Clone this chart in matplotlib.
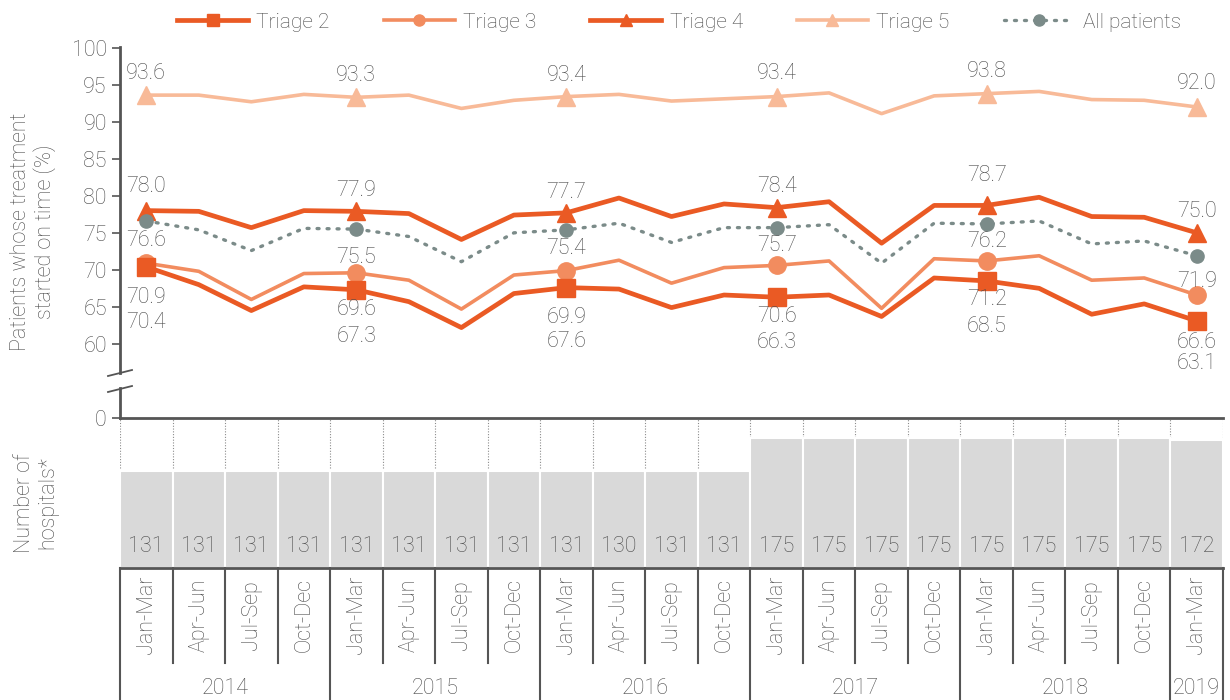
import matplotlib
matplotlib.use("Agg")
import matplotlib.pyplot as plt
from matplotlib.lines import Line2D
import matplotlib.transforms as mtransforms

plt.rcParams["font.family"] = ["Roboto", "DejaVu Sans"]
plt.rcParams["font.weight"] = "light"

quarters = ["Jan-Mar", "Apr-Jun", "Jul-Sep", "Oct-Dec"] * 5 + ["Jan-Mar"]
years = ["2014", "2015", "2016", "2017", "2018", "2019"]
year_centers = [1.5, 5.5, 9.5, 13.5, 17.5, 20]
year_bounds = [-0.5, 3.5, 7.5, 11.5, 15.5, 19.5, 20.5]

triage2 = [70.4, 68.0, 64.5, 67.7, 67.3, 65.7, 62.2, 66.8, 67.6, 67.4, 64.9,
           66.6, 66.3, 66.6, 63.7, 68.9, 68.5, 67.5, 64.0, 65.4, 63.1]
triage3 = [70.9, 69.8, 66.0, 69.5, 69.6, 68.6, 64.7, 69.3, 69.9, 71.3, 68.2,
           70.3, 70.6, 71.2, 64.8, 71.5, 71.2, 71.9, 68.6, 68.9, 66.6]
triage4 = [78.0, 77.9, 75.7, 78.0, 77.9, 77.6, 74.1, 77.4, 77.7, 79.7, 77.2,
           78.9, 78.4, 79.2, 73.6, 78.7, 78.7, 79.8, 77.2, 77.1, 75.0]
triage5 = [93.6, 93.6, 92.7, 93.7, 93.3, 93.6, 91.8, 92.9, 93.4, 93.7, 92.8,
           93.1, 93.4, 93.9, 91.1, 93.5, 93.8, 94.1, 93.0, 92.9, 92.0]
all_patients = [76.6, 75.4, 72.6, 75.6, 75.5, 74.5, 71.1, 75.0, 75.4, 76.3, 73.7,
                75.7, 75.7, 76.1, 70.9, 76.3, 76.2, 76.6, 73.5, 73.9, 71.9]
hospitals = [131, 131, 131, 131, 131, 131, 131, 131, 131, 130, 131,
             131, 175, 175, 175, 175, 175, 175, 175, 175, 172]

TXT = "#4a4a4a"
AXC = "#555555"
C_DARK = "#EA5A24"
C_MID = "#F28C5F"
C_LIGHT = "#F8BA98"
C_GREY = "#7B8B89"
FS = 15.5

x = list(range(len(quarters)))
fig = plt.figure(figsize=(12.3, 7), dpi=100)
L, W = 120 / 1230, 1103 / 1230

# ---- top panel: lines
ax = fig.add_axes([L, 1 - 373 / 700, W, 326 / 700])
ax.set_xlim(-0.5, 20.5)
ax.set_ylim(100 - 326 / 7.42, 100.1)
ax.set_yticks([60, 65, 70, 75, 80, 85, 90, 95, 100])
ax.set_xticks([])
for s in ["top", "right", "bottom"]:
    ax.spines[s].set_visible(False)
ax.spines["left"].set_color(AXC)
ax.spines["left"].set_linewidth(2)
ax.tick_params(axis="y", colors=AXC, labelcolor=TXT, labelsize=FS, length=6, width=1.2)

mk = slice(0, None, 4)
ax.plot(x, triage5, color=C_LIGHT, lw=2.6, marker="^", ms=13, markevery=mk, zorder=2)
ax.plot(x, triage4, color=C_DARK, lw=3.4, marker="^", ms=13, markevery=mk, zorder=3)
ax.plot(x, triage3, color=C_MID, lw=2.6, marker="o", ms=12.5, markevery=mk, zorder=3)
ax.plot(x, triage2, color=C_DARK, lw=3.4, marker="s", ms=13, markevery=mk, zorder=4)
ax.plot(x, all_patients, color=C_GREY, lw=2.4, linestyle=(0, (0.6, 2.4)),
        dash_capstyle="round", marker="o", ms=9.5, markevery=mk, zorder=5)

# label offsets in pixels (positive = up)
off5 = [22, 22, 21, 23, 22, 23]
off4 = [24, 21, 20, 21, 30, 21]
offA = [-20, -28, -19, -18, -18, -26]
off3 = [-34, -37, -47, -51, -39, -47]
off2 = [-56, -47, -54, -45, -46, -43]
for series, offs in [(triage5, off5), (triage4, off4), (all_patients, offA),
                     (triage3, off3), (triage2, off2)]:
    for k, i in enumerate(range(0, len(x), 4)):
        ax.annotate(f"{series[i]:.1f}", (i, series[i]), xytext=(0, offs[k]),
                    textcoords="offset pixels", ha="center", va="center",
                    fontsize=FS, color=TXT, zorder=6)

fig.text(33 / 1230, 1 - 232 / 700, "Patients whose treatment\nstarted on time (%)",
         rotation=90, ha="center", va="center", fontsize=FS, color=TXT, linespacing=1.1)

# ---- lower stub with the 0 tick
ax0 = fig.add_axes([L, 1 - 418 / 700, W, 30 / 700])
ax0.set_xlim(-0.5, 20.5)
ax0.set_ylim(0, 1)
ax0.set_yticks([0])
ax0.set_xticks([])
for s in ["top", "right"]:
    ax0.spines[s].set_visible(False)
for s in ["left", "bottom"]:
    ax0.spines[s].set_color(AXC)
    ax0.spines[s].set_linewidth(2)
ax0.tick_params(axis="y", colors=AXC, labelcolor=TXT, labelsize=FS, length=6, width=1.2)
ax0.patch.set_alpha(0)

# break marks
for yb in [373, 389]:
    fig.add_artist(Line2D([108 / 1230, 132 / 1230], [1 - (yb + 3) / 700, 1 - (yb - 3) / 700],
                          color=AXC, lw=1.3))

# ---- bars: number of hospitals
axb = fig.add_axes([L, 1 - 568 / 700, W, 150 / 700])
axb.set_xlim(-0.5, 20.5)
axb.set_ylim(0, 202)
for b in [i - 0.5 for i in range(len(x) + 1)]:
    axb.axvline(b, color="#8c8c8c", lw=0.8, linestyle=(0, (1, 1.5)), zorder=0)
axb.bar(x, hospitals, width=1.0, color="#D9D9D9", edgecolor="white", linewidth=1.5, zorder=1)
trans = mtransforms.blended_transform_factory(axb.transData, axb.transAxes)
for i, h in enumerate(hospitals):
    axb.text(i, 0.14, str(h), transform=trans, ha="center", va="center",
             fontsize=FS, color=TXT, zorder=3)
axb.set_xticks([])
axb.set_yticks([])
for s in ["top", "right", "left"]:
    axb.spines[s].set_visible(False)
axb.spines["bottom"].set_color(AXC)
axb.spines["bottom"].set_linewidth(2)
axb.spines["bottom"].set_zorder(4)
axb.patch.set_alpha(0)
fig.text(36 / 1230, 1 - 503 / 700, "Number of\nhospitals*", rotation=90,
         ha="center", va="center", fontsize=FS, color=TXT, linespacing=1.1)

# ---- category axis
axc = fig.add_axes([L, 0, W, 132 / 700])
axc.set_xlim(-0.5, 20.5)
axc.set_ylim(0, 1)
axc.axis("off")
for b in [i - 0.5 for i in range(len(x) + 1)]:
    if b in year_bounds:
        axc.plot([b, b], [0, 1], color=AXC, lw=1.5, clip_on=False)
    else:
        axc.plot([b, b], [0.28, 1], color=AXC, lw=1.5, clip_on=False)
for i, q in enumerate(quarters):
    axc.text(i, 0.644, q, rotation=90, ha="center", va="center", fontsize=FS, color=TXT)
for yc, yr in zip(year_centers, years):
    axc.text(yc, 0.09, yr, ha="center", va="center", fontsize=FS, color=TXT)

# ---- legend
handles = [
    Line2D([], [], color=C_DARK, lw=3.4, marker="s", ms=8),
    Line2D([], [], color=C_MID, lw=2.6, marker="o", ms=8),
    Line2D([], [], color=C_DARK, lw=3.4, marker="^", ms=8),
    Line2D([], [], color=C_LIGHT, lw=2.6, marker="^", ms=8),
    Line2D([], [], color=C_GREY, lw=2.4, linestyle=(0, (0.6, 2.4)),
           dash_capstyle="round", marker="o", ms=8),
]
labels = ["Triage 2", "Triage 3", "Triage 4", "Triage 5", "All patients"]
fig.legend(handles, labels, loc="center", bbox_to_anchor=(679 / 1230, 1 - 22 / 700),
           ncol=5, frameon=False, fontsize=FS - 0.5, handlelength=3.4, columnspacing=2.6,
           handletextpad=0.4, labelcolor=TXT)

fig.savefig("out.png", dpi=100)
plt.close(fig)
